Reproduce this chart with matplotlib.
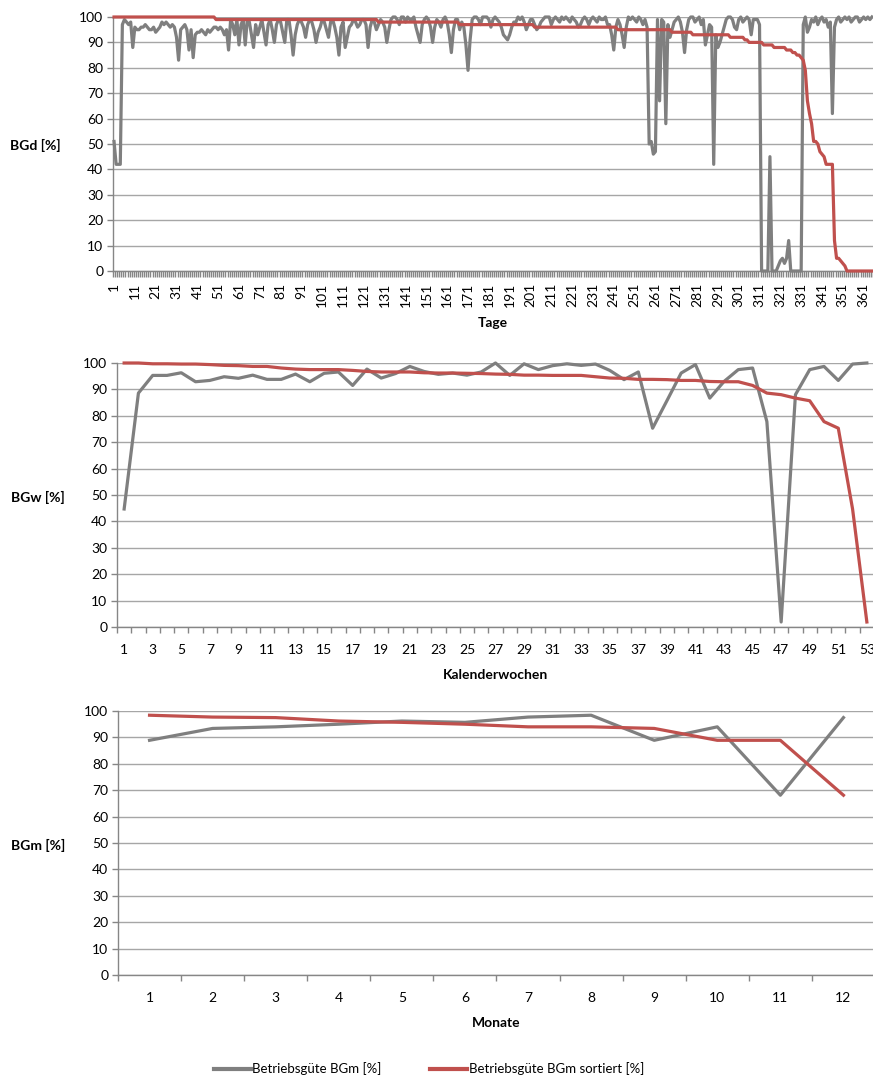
import numpy as np
import matplotlib
matplotlib.use("Agg")
import matplotlib.pyplot as plt
from matplotlib.ticker import FixedLocator
from matplotlib.lines import Line2D

W, H = 873, 1077
plt.rcParams['font.family'] = ['Lato', 'DejaVu Sans']

# Betriebsgüte je Tag [%] (Tag 1..365)
bgd_tage = [
    51, 42, 42, 42, 97, 99, 98, 97, 98, 88,
    96, 95, 95, 96, 96, 97, 96, 95, 95, 96,
    94, 95, 96, 98, 97, 98, 97, 96, 97, 96,
    92, 83, 95, 96, 97, 95, 87, 95, 84, 93,
    94, 94, 95, 94, 93, 95, 94, 95, 96, 96,
    95, 96, 95, 93, 95, 87, 99, 97, 93, 99,
    89, 97, 99, 89, 99, 98, 93, 88, 97, 93,
    96, 99, 94, 89, 97, 99, 95, 90, 97, 99,
    98, 94, 90, 99, 99, 93, 85, 93, 97, 99,
    98, 96, 92, 97, 99, 98, 95, 90, 94, 96,
    99, 98, 95, 92, 98, 99, 96, 92, 85, 96,
    98, 88, 92, 96, 97, 99, 98, 96, 97, 99,
    99, 97, 88, 96, 99, 98, 95, 97, 99, 98,
    96, 90, 95, 99, 100, 100, 99, 97, 100, 100,
    98, 100, 99, 99, 100, 96, 93, 90, 97, 99,
    100, 99, 96, 90, 96, 99, 98, 96, 99, 100,
    98, 93, 86, 95, 99, 99, 95, 98, 96, 89,
    79, 91, 99, 100, 100, 99, 97, 100, 100, 100,
    99, 96, 99, 100, 99, 98, 96, 93, 92, 91,
    93, 96, 98, 98, 100, 99, 100, 98, 95, 97,
    99, 99, 97, 95, 96, 98, 99, 100, 100, 100,
    97, 99, 100, 99, 98, 100, 99, 100, 99, 98,
    100, 99, 98, 96, 97, 99, 100, 99, 97, 99,
    100, 99, 98, 100, 99, 99, 100, 97, 97, 93,
    87, 96, 99, 97, 93, 88, 96, 100, 99, 100,
    99, 98, 100, 99, 97, 99, 96, 50, 51, 46,
    47, 99, 67, 99, 98, 58, 97, 92, 95, 98,
    99, 100, 98, 94, 86, 95, 99, 100, 100, 98,
    99, 100, 97, 99, 89, 93, 97, 96, 42, 93,
    88, 90, 93, 96, 99, 100, 100, 99, 96, 95,
    99, 100, 98, 99, 100, 99, 93, 99, 99, 99,
    97, 0, 0, 0, 0, 45, 0, 0, 0, 2,
    4, 5, 3, 5, 12, 0, 0, 0, 0, 0,
    0, 97, 100, 94, 96, 99, 98, 100, 97, 99,
    100, 98, 99, 96, 98, 62, 96, 99, 100, 98,
    99, 100, 99, 100, 98, 99, 100, 100, 98, 99,
    100, 99, 100, 99, 100,
]

# Betriebsgüte je Kalenderwoche [%] (KW 1..53)
bgw_wochen = [
    44.7, 88.6, 95.3, 95.3, 96.3, 92.9, 93.4, 94.8, 94.2, 95.4,
    93.8, 93.8, 95.8, 92.9, 96.1, 96.6, 91.5, 97.7, 94.3, 96.0,
    98.7, 96.8, 95.7, 96.2, 95.4, 96.6, 100.0, 95.3, 99.7, 97.5,
    99.0, 99.7, 99.1, 99.6, 97.2, 93.7, 96.6, 75.3, 85.7, 96.2,
    99.4, 86.7, 93.0, 97.5, 98.1, 77.8, 1.9, 88.0, 97.5, 98.7,
    93.4, 99.6, 100.0,
]

# Betriebsgüte je Monat [%] (Monat 1..12)
bgm_monate = [88.9, 93.4, 94.0, 95.0, 96.2, 95.7, 97.7, 98.4, 88.9, 94.0, 68.1, 97.5]

legend_labels = ["Betriebsgüte BGm [%]", "Betriebsgüte BGm sortiert [%]"]

GRAY = '#7F7F7F'
RED = '#C0504D'
GRID = '#A6A6A6'
AXIS = '#868686'
LW = 2.3

fig = plt.figure(figsize=(W / 100, H / 100), dpi=100)


def px_box(left, top, right, bottom):
    return [left / W, 1 - bottom / H, (right - left) / W, (bottom - top) / H]


def fx(x):
    return x / W


def fy(y):
    return 1 - y / H


def draw_panel(box, values, label_every, xlab_pad, rotate, ylabel, ylab_xy, xlabel, xlab_y):
    ax = fig.add_axes(px_box(*box))
    n = len(values)
    x = np.arange(1, n + 1)
    ordered = sorted(values, reverse=True)
    ax.plot(x, values, color=GRAY, lw=LW, solid_joinstyle='round', clip_on=False, zorder=3)
    ax.plot(x, ordered, color=RED, lw=LW, solid_joinstyle='round', clip_on=False, zorder=4)

    ax.set_xlim(0.5, n + 0.5)
    ax.set_ylim(0, 100)
    ax.set_yticks(range(0, 101, 10))
    ax.yaxis.grid(True, color=GRID, lw=1.0)
    ax.set_axisbelow(True)
    for s in ('top', 'right'):
        ax.spines[s].set_visible(False)
    for s in ('left', 'bottom'):
        ax.spines[s].set_color(AXIS)
        ax.spines[s].set_linewidth(1.0)

    ax.tick_params(axis='y', length=4, width=1.0, color=AXIS, labelsize=10, pad=3)
    ticks = list(range(1, n + 1, label_every))
    ax.set_xticks(ticks)
    ax.set_xticklabels([str(t) for t in ticks], rotation=rotate)
    ax.xaxis.set_minor_locator(FixedLocator(np.arange(0.5, n + 1, 1.0)))
    ax.tick_params(axis='x', which='minor', length=4, width=1.0, color=AXIS)
    ax.tick_params(axis='x', which='major', length=0, labelsize=10, pad=xlab_pad)

    fig.text(fx(ylab_xy[0]), fy(ylab_xy[1]), ylabel, fontsize=10, fontweight='bold',
             ha='left', va='center')
    cx = (box[0] + box[2]) / 2
    fig.text(fx(cx), fy(xlab_y), xlabel, fontsize=10, fontweight='bold',
             ha='center', va='center')
    return ax


draw_panel((113, 17, 873, 271), bgd_tage, 10, 8.5, 90,
           "BGd [%]", (10, 145), "Tage", 323)
draw_panel((117, 363, 874, 627), bgw_wochen, 2, 12, 0,
           "BGw [%]", (11, 497), "Kalenderwochen", 675)
draw_panel((118, 711, 875, 975), bgm_monate, 1, 12, 0,
           "BGm [%]", (11, 845), "Monate", 1023)

handles = [Line2D([], [], color=GRAY, lw=3), Line2D([], [], color=RED, lw=3)]
fig.legend(handles, legend_labels, loc='center', bbox_to_anchor=(fx(429), fy(1069)),
           ncol=2, frameon=False, fontsize=9.5, handlelength=2.8, handletextpad=0.1,
           columnspacing=3.7)

fig.savefig("out.png", dpi=100)
